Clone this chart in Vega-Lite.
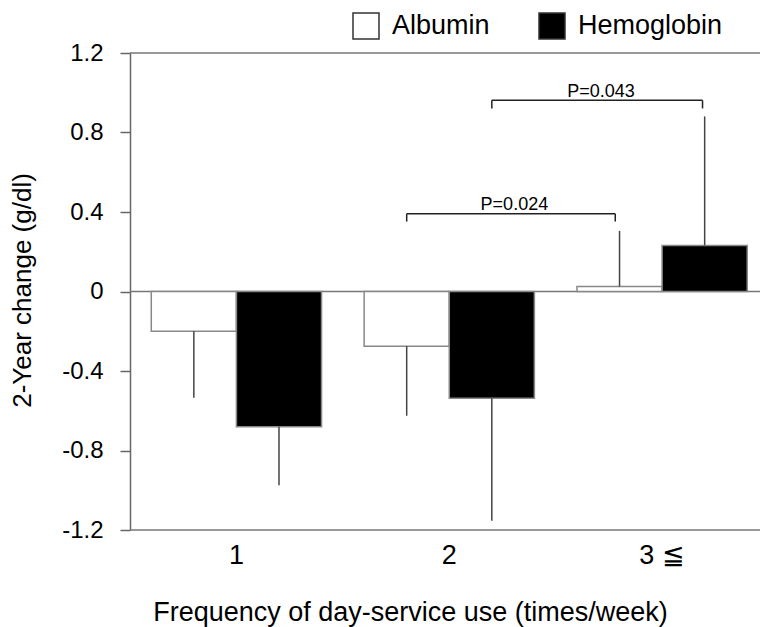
{
  "$schema": "https://vega.github.io/schema/vega-lite/v6.json",
  "width": 630,
  "height": 477,
  "autosize": {"type": "none"},
  "padding": {"left": 130, "top": 53, "right": 0, "bottom": 97},
  "config": {
    "font": "Liberation Sans",
    "view": {"stroke": null},
    "axis": {"labelColor": "#000", "titleColor": "#000", "titleFontWeight": "normal"}
  },
  "resolve": {"scale": {"x": "independent"}},
  "layer": [
    {
      "data": {"values": [{"ref": 1.2}, {"ref": 0}, {"ref": -1.2}]},
      "mark": {"type": "rule", "color": "#777", "strokeWidth": 1.5},
      "encoding": {
        "y": {"field": "ref", "type": "quantitative", "scale": {"domain": [-1.2, 1.2], "nice": false},
          "axis": {"values": [1.2, 0.8, 0.4, 0, -0.4, -0.8, -1.2], "labelExpr": "'' + datum.value",
            "grid": false, "domainColor": "#666", "domainWidth": 1.5, "tickColor": "#666", "tickWidth": 1.5, "tickSize": 10,
            "labelFontSize": 24, "labelPadding": 17, "labelBaseline": "middle",
            "title": "2-Year change (g/dl)", "titleFontSize": 26, "titleAngle": -90,
            "titleX": -108, "titleY": 237, "titleAlign": "center", "titleBaseline": "middle"}}
      }
    },
    {
      "data": {"name": "bars", "values": [
        {"freq": "1", "marker": "Albumin", "value": -0.20, "err": -0.535},
        {"freq": "1", "marker": "Hemoglobin", "value": -0.68, "err": -0.975},
        {"freq": "2", "marker": "Albumin", "value": -0.275, "err": -0.625},
        {"freq": "2", "marker": "Hemoglobin", "value": -0.537, "err": -1.153},
        {"freq": "3 ≦", "marker": "Albumin", "value": 0.025, "err": 0.305},
        {"freq": "3 ≦", "marker": "Hemoglobin", "value": 0.232, "err": 0.881}
      ]},
      "layer": [
        {
          "mark": {"type": "bar", "stroke": "#888", "strokeWidth": 1.5},
          "encoding": {
            "x": {"field": "freq", "type": "nominal", "sort": null,
              "scale": {"paddingInner": 0.2, "paddingOuter": 0.08, "align": 0.625, "round": false},
              "axis": {"domain": false, "ticks": false, "labelAngle": 0, "labelFontSize": 27, "labelPadding": 12,
                "title": "Frequency of day-service use (times/week)", "titleFontSize": 27,
                "titleX": 280, "titleY": 90, "titleAlign": "center", "titleBaseline": "alphabetic"}},
            "xOffset": {"field": "marker", "type": "nominal", "scale": {"paddingInner": 0, "paddingOuter": 0}},
            "y": {"field": "value", "type": "quantitative"},
            "fill": {"field": "marker", "type": "nominal",
              "scale": {"domain": ["Albumin", "Hemoglobin"], "range": ["#ffffff", "#000000"]},
              "legend": {"title": null, "orient": "none", "direction": "horizontal", "legendX": 222, "legendY": -41,
                "symbolType": "square", "symbolSize": 676, "symbolStrokeColor": "#333", "symbolStrokeWidth": 1.5,
                "labelFontSize": 27, "labelOffset": 12, "columnPadding": 46, "labelColor": "#000"}}
          }
        },
        {
          "mark": {"type": "rule", "color": "#444", "strokeWidth": 1.5},
          "encoding": {
            "x": {"field": "freq", "type": "nominal", "sort": null},
            "xOffset": {"field": "marker", "type": "nominal"},
            "y": {"field": "value", "type": "quantitative"},
            "y2": {"field": "err"}
          }
        }
      ]
    },
    {
      "data": {"values": [
        {"x1": 1.8, "x2": 2.78, "y1": 0.391, "y2": 0.391},
        {"x1": 1.8, "x2": 1.8, "y1": 0.391, "y2": 0.352},
        {"x1": 2.78, "x2": 2.78, "y1": 0.391, "y2": 0.352},
        {"x1": 2.2, "x2": 3.19, "y1": 0.962, "y2": 0.962},
        {"x1": 2.2, "x2": 2.2, "y1": 0.962, "y2": 0.921},
        {"x1": 3.19, "x2": 3.19, "y1": 0.962, "y2": 0.921}
      ]},
      "mark": {"type": "rule", "color": "#222", "strokeWidth": 1.5},
      "encoding": {
        "x": {"field": "x1", "type": "quantitative", "scale": {"domain": [0.5, 3.46], "nice": false, "zero": false}, "axis": null},
        "x2": {"field": "x2"},
        "y": {"field": "y1", "type": "quantitative"},
        "y2": {"field": "y2"}
      }
    },
    {
      "data": {"values": [
        {"px": 2.306, "py": 0.408, "label": "P=0.024"},
        {"px": 2.713, "py": 0.979, "label": "P=0.043"}
      ]},
      "mark": {"type": "text", "fontSize": 18, "align": "center", "baseline": "alphabetic", "color": "#000"},
      "encoding": {
        "x": {"field": "px", "type": "quantitative", "scale": {"domain": [0.5, 3.46], "nice": false, "zero": false}, "axis": null},
        "y": {"field": "py", "type": "quantitative"},
        "text": {"field": "label"}
      }
    }
  ]
}
